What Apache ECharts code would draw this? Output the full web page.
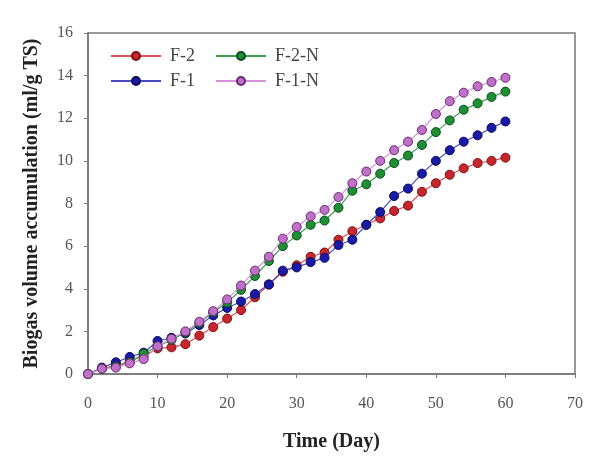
<!DOCTYPE html>
<html><head><meta charset="utf-8">
<script src="https://cdn.jsdelivr.net/npm/echarts@6/dist/echarts.min.js"></script>
<style>html,body{margin:0;padding:0;background:#fff}#c{width:593px;height:461px}</style>
</head><body><div id="c"></div>
<script>
const days = [0,2,4,6,8,10,12,14,16,18,20,22,24,26,28,30,32,34,36,38,40,42,44,46,48,50,52,54,56,58,60];
const f2  = [0,0.25,0.4,0.6,0.85,1.2,1.25,1.4,1.8,2.2,2.6,3.0,3.6,4.2,4.8,5.1,5.5,5.7,6.3,6.7,7.0,7.3,7.65,7.9,8.55,8.95,9.35,9.65,9.9,10.0,10.15];
const f1  = [0,0.3,0.55,0.8,1.0,1.55,1.7,1.9,2.3,2.75,3.1,3.4,3.75,4.2,4.85,5.0,5.25,5.45,6.05,6.3,7.0,7.6,8.35,8.7,9.4,10.0,10.5,10.9,11.2,11.55,11.85];
const f2n = [0,0.25,0.35,0.55,0.95,1.3,1.6,1.95,2.4,2.9,3.35,3.95,4.6,5.3,6.0,6.5,7.0,7.2,7.8,8.6,8.9,9.4,9.9,10.25,10.75,11.35,11.9,12.4,12.7,13.0,13.25];
const f1n = [0,0.25,0.3,0.5,0.7,1.3,1.65,2.0,2.45,2.95,3.5,4.15,4.85,5.5,6.35,6.9,7.4,7.7,8.3,8.95,9.5,10.0,10.5,10.9,11.45,12.2,12.8,13.2,13.5,13.7,13.9];
const names = ['F-2','F-2-N','F-1','F-1-N'];
const legendRow1 = ['F-2','F-2-N'];
const legendRow2 = ['F-1','F-1-N'];

const seriesData = {'F-2':f2,'F-2-N':f2n,'F-1':f1,'F-1-N':f1n};
const styles = {
  'F-2':   {line:'#e0505a', fill:'#c8262e', border:'#7a1010'},
  'F-2-N': {line:'#3aa050', fill:'#1f8f35', border:'#0c4a18'},
  'F-1':   {line:'#4a4ac0', fill:'#1a1aa8', border:'#0a0a55'},
  'F-1-N': {line:'#d890d8', fill:'#c070c8', border:'#6a2a70'}
};
const font = 'Liberation Serif, DejaVu Serif, serif';
const legendBase = {
  orient:'horizontal', left:105, itemWidth:50, itemHeight:10, itemGap:20,
  textStyle:{fontFamily:font,fontSize:18,color:'#444',padding:[0,0,0,4]}
};
const chart = echarts.init(document.getElementById('c'));
chart.setOption({
  animation:false,
  backgroundColor:'#fff',
  grid:{left:88,right:18,top:33,bottom:87,show:true,borderColor:'#777',borderWidth:1.5,backgroundColor:'transparent'},
  legend:[
    Object.assign({}, legendBase, {data:legendRow1, top:42}),
    Object.assign({}, legendBase, {data:legendRow2, top:67})
  ],
  xAxis:{
    type:'value', min:0, max:70, interval:10,
    name:'Time (Day)', nameLocation:'middle', nameGap:58,
    nameTextStyle:{fontFamily:font,fontSize:20,fontWeight:'bold',color:'#222'},
    axisLine:{show:true,lineStyle:{color:'#777',width:1.5}},
    axisTick:{show:true,length:4,lineStyle:{color:'#777'}},
    axisLabel:{fontFamily:font,fontSize:16,color:'#555',margin:22},
    splitLine:{show:false}
  },
  yAxis:{
    type:'value', min:0, max:16, interval:2,
    name:'Biogas volume accumulation (ml/g TS)', nameLocation:'middle', nameGap:46,
    nameTextStyle:{fontFamily:font,fontSize:20,fontWeight:'bold',color:'#222'},
    axisLine:{show:true,lineStyle:{color:'#777',width:1.5}},
    axisTick:{show:true,length:4,lineStyle:{color:'#777'}},
    axisLabel:{fontFamily:font,fontSize:16,color:'#555',margin:15},
    splitLine:{show:false}
  },
  series:names.map(n=>({
    name:n, type:'line',
    data:days.map((d,i)=>[d,seriesData[n][i]]),
    symbol:'circle', symbolSize:9,
    lineStyle:{color:styles[n].line,width:1.2},
    itemStyle:{color:styles[n].fill,borderColor:styles[n].border,borderWidth:1},
    z: n==='F-1-N'?5:(n==='F-2-N'?4:(n==='F-1'?3:2))
  }))
});
</script></body></html>
